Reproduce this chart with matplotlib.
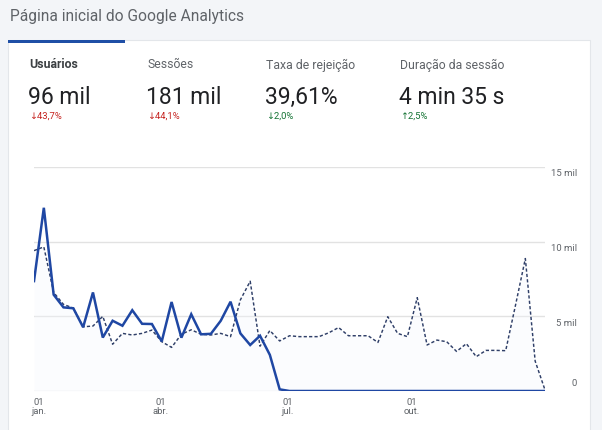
import matplotlib
matplotlib.use("Agg")
import matplotlib.pyplot as plt
from matplotlib.patches import Rectangle

plt.rcParams['font.family'] = ['Roboto', 'DejaVu Sans']

# ---------------- data ----------------
title = "Página inicial do Google Analytics"
metric_names = ["Usuários", "Sessões", "Taxa de rejeição", "Duração da sessão"]
metric_values = ["96 mil", "181 mil", "39,61%", "4 min 35 s"]
metric_changes = ["↓43,7%", "↓44,1%", "↓2,0%", "↑2,5%"]
metric_change_colors = ["#c5221f", "#c5221f", "#137333", "#137333"]

# weekly users, current period (solid)
users_current = [7360, 12270, 6450, 5600, 5540, 4270, 6600, 3580, 4705, 4370,
                 5410, 4500, 4485, 3320, 5960, 3570, 5140, 3795, 3830, 4700,
                 5980, 3860, 3080, 3700, 2420, 110, 0, 0, 0, 0,
                 0, 0, 0, 0, 0, 0, 0, 0, 0, 0,
                 0, 0, 0, 0, 0, 0, 0, 0, 0, 0,
                 0, 0, 0]
# weekly users, previous period (dashed)
users_previous = [9400, 9650, 6600, 5800, 5550, 4300, 4350, 5000, 3130, 3860,
                  3750, 3860, 4080, 3300, 2920, 3800, 4100, 3800, 3750, 3860,
                  3640, 6100, 7350, 3000, 4050, 3350, 3700, 3640, 3640, 3640,
                  3900, 4250, 3700, 3700, 3700, 3250, 4975, 3860, 3640, 6250,
                  3080, 3410, 3300, 2650, 3170, 2300, 2720, 2720, 2700, 5750,
                  8870, 2000, 70]

tick_positions = [0.5, 12.9, 25.8, 38.4]
tick_labels = ["01\njan.", "01\nabr.", "01\njul.", "01\nout."]
y_ticks = [0, 5000, 10000, 15000]
y_tick_labels = ["0", "5 mil", "10 mil", "15 mil"]

# ---------------- figure ----------------
W, H = 602, 430
fig = plt.figure(figsize=(W / 100, H / 100), dpi=100)
fig.patch.set_facecolor("#f3f5f8")


def fx(px):
    return px / W


def fy(py):
    return 1 - py / H


# card
fig.patches.append(Rectangle((fx(8), fy(432)), fx(590) - fx(8), fy(40) - fy(432),
                             transform=fig.transFigure, facecolor="white",
                             edgecolor="#e3e6ea", linewidth=0.8, zorder=-5))
# blue tab indicator
fig.patches.append(Rectangle((fx(8), fy(43)), fx(125) - fx(8), fy(40) - fy(43),
                             transform=fig.transFigure, facecolor="#1f4fa6",
                             edgecolor="none", zorder=-4))

fig.text(fx(10), fy(17), title, fontsize=11.2, color="#5f6368",
         va="center", ha="left")

metric_x = [29, 147, 266, 400]
for i, (nm, val, ch, cc) in enumerate(zip(metric_names, metric_values,
                                           metric_changes, metric_change_colors)):
    x = metric_x[i]
    fig.text(fx(x), fy(65), nm, fontsize=8.8, color="#3c4043" if i == 0 else "#5f6368",
             fontweight="bold" if i == 0 else "normal", va="center", ha="left")
    fig.text(fx(x - 1), fy(97), val, fontsize=16.5, color="#202124",
             va="center", ha="left")
    fig.text(fx(x), fy(116), ch, fontsize=6.8, color=cc, va="center", ha="left")

# chart axes
ax = fig.add_axes([fx(34), fy(391), fx(545) - fx(34), fy(167) - fy(391)], zorder=2)
ax.set_facecolor("none")
x = list(range(len(users_current)))
ax.set_xlim(0, len(users_current) - 1)
ax.set_ylim(0, 15000)

for v in y_ticks:
    ax.axhline(v, color="#e2e2e2", linewidth=1.0, zorder=0)

ax.fill_between(x, users_previous, color="#f3f7fd", alpha=0.3, linewidth=0, zorder=1)
ax.plot(x, users_previous, color="#2f3f68", linewidth=1.05,
        linestyle=(0, (2.2, 1.5)), zorder=2)
ax.plot(x, users_current, color="#1f47a3", linewidth=1.8, zorder=3,
        solid_joinstyle="miter")

for s in ax.spines.values():
    s.set_visible(False)
ax.set_yticks([])
ax.set_xticks(tick_positions)
ax.set_xticklabels(tick_labels, fontsize=6.8, color="#5f6368", linespacing=1.0)
ax.tick_params(axis="x", length=0, pad=5)

for v, lab in zip(y_ticks, y_tick_labels):
    off = 8 if v == 0 else -7
    ax.annotate(lab, xy=(1, v), xycoords=("axes fraction", "data"),
                xytext=(32, off), textcoords="offset pixels",
                ha="right", va="center", fontsize=6.8, color="#5f6368",
                annotation_clip=False)

fig.savefig("out.png", dpi=100, facecolor=fig.get_facecolor())
